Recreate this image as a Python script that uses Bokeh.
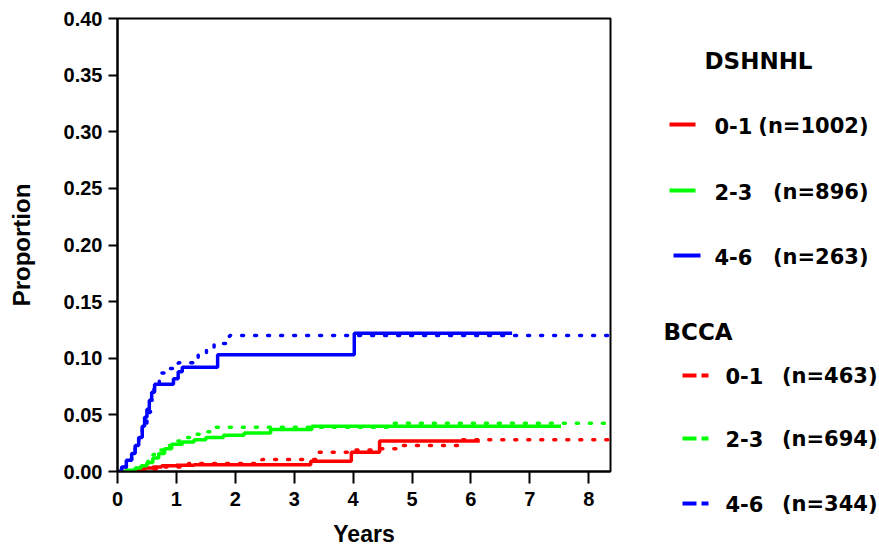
from bokeh.plotting import figure
from bokeh.layouts import row
from bokeh.models import Range1d, FixedTicker, NumeralTickFormatter
from bokeh.core.properties import value
from bokeh.embed import file_html
from bokeh.resources import INLINE

# ---------------- data ----------------
x_ticks = [0, 1, 2, 3, 4, 5, 6, 7, 8]
y_ticks = [0.0, 0.05, 0.10, 0.15, 0.20, 0.25, 0.30, 0.35, 0.40]

# DSHNHL (solid)
dsh_01_t = [0, 0.3, 0.45, 0.6, 0.75, 1.0, 1.3, 3.28, 3.97, 4.45, 6.15]
dsh_01_y = [0, 0.001, 0.003, 0.004, 0.005, 0.0055, 0.006, 0.009, 0.017, 0.027, 0.027]

dsh_23_t = [0, 0.15, 0.3, 0.4, 0.5, 0.6, 0.7, 0.8, 0.92, 1.1, 1.3, 1.5, 1.8, 2.15, 2.6, 3.3, 7.53]
dsh_23_y = [0, 0.001, 0.003, 0.005, 0.008, 0.012, 0.016, 0.020, 0.024, 0.026, 0.028, 0.030, 0.032,
            0.034, 0.037, 0.040, 0.040]

dsh_46_t = [0, 0.07, 0.15, 0.24, 0.3, 0.36, 0.42, 0.46, 0.5, 0.54, 0.58, 0.63, 0.95, 1.03, 1.1, 1.7,
            4.02, 6.7]
dsh_46_y = [0, 0.004, 0.010, 0.016, 0.023, 0.030, 0.040, 0.048, 0.055, 0.063, 0.070, 0.077, 0.082,
            0.088, 0.092, 0.103, 0.122, 0.122]

# BCCA (dotted)
bc_01_t = [0, 0.3, 0.5, 0.8, 1.2, 2.45, 3.37, 3.97, 4.4, 4.76, 5.83, 8.37]
bc_01_y = [0, 0.001, 0.002, 0.004, 0.007, 0.0105, 0.017, 0.019, 0.020, 0.023, 0.028, 0.028]

bc_23_t = [0, 0.29, 0.4, 0.52, 0.6, 0.7, 0.86, 0.95, 1.08, 1.25, 1.42, 1.64, 4.6, 8.37]
bc_23_y = [0, 0.002, 0.006, 0.011, 0.015, 0.019, 0.023, 0.027, 0.030, 0.033, 0.035, 0.039, 0.0425,
           0.0425]

bc_46_t = [0, 0.07, 0.15, 0.24, 0.3, 0.36, 0.42, 0.5, 0.56, 0.62, 0.71, 0.88, 1.03, 1.37, 1.51, 1.64,
           1.9, 8.37]
bc_46_y = [0, 0.003, 0.009, 0.015, 0.022, 0.030, 0.040, 0.052, 0.063, 0.075, 0.087, 0.091, 0.096,
           0.103, 0.108, 0.113, 0.120, 0.120]

groups = ["0-1", "2-3", "4-6"]
dsh_n = ["(n=1002)", "(n=896)", "(n=263)"]
bc_n = ["(n=463)", "(n=694)", "(n=344)"]
colors = ["#ff0000", "#00ff00", "#0000ff"]

FONT = "Liberation Sans"
LFONT = "DejaVu Sans"

# ---------------- main plot ----------------
p = figure(width=618, height=550, output_backend="svg", toolbar_location=None,
           x_range=Range1d(0, 8.37), y_range=Range1d(0, 0.40),
           min_border_left=117, min_border_right=8, min_border_top=18, min_border_bottom=79)
p.frame_align = False
p.grid.visible = False
p.outline_line_color = "black"
p.outline_line_width = 2
p.background_fill_color = "white"
p.border_fill_color = "white"

for ax in (p.xaxis[0], p.yaxis[0]):
    ax.axis_line_width = 2
    ax.major_tick_line_width = 2
    ax.minor_tick_line_color = None
    ax.major_tick_in = 0
    ax.major_label_text_font = FONT
    ax.major_label_text_font_style = "bold"
    ax.major_label_text_color = "black"
    ax.axis_label_text_font = FONT
    ax.axis_label_text_font_style = "bold"
    ax.axis_label_text_color = "black"

p.xaxis.ticker = FixedTicker(ticks=x_ticks)
p.xaxis.major_tick_out = 12
p.xaxis.major_label_standoff = 8
p.xaxis.major_label_text_font_size = "20px"
p.xaxis.axis_label = "Years"
p.xaxis.axis_label_text_font_size = "23px"
p.xaxis.axis_label_standoff = 12

p.yaxis.ticker = FixedTicker(ticks=y_ticks)
p.yaxis.formatter = NumeralTickFormatter(format="0.00")
p.yaxis.major_tick_out = 9
p.yaxis.major_label_standoff = 6
p.yaxis.major_label_text_font_size = "20px"
p.yaxis.axis_label = "Proportion"
p.yaxis.axis_label_text_font_size = "24px"
p.yaxis.axis_label_standoff = 26

dotted = dict(line_width=3.5, line_dash="2 11", line_cap="round")
solid = dict(line_width=3.5)

for t, y, c in zip([bc_01_t, bc_23_t, bc_46_t], [bc_01_y, bc_23_y, bc_46_y], colors):
    p.step(t, y, mode="after", line_color=c, **dotted)
for t, y, c in zip([dsh_01_t, dsh_23_t, dsh_46_t], [dsh_01_y, dsh_23_y, dsh_46_y], colors):
    p.step(t, y, mode="after", line_color=c, **solid)

# ---------------- legend panel (coordinates = window pixels) ----------------
lg = figure(width=261, height=550, output_backend="svg", toolbar_location=None,
            x_range=Range1d(618, 879), y_range=Range1d(550, 0),
            min_border=0, min_border_left=0, min_border_right=0,
            min_border_top=0, min_border_bottom=0)
lg.frame_align = False
lg.axis.visible = False
lg.grid.visible = False
lg.outline_line_color = None

tf = value(LFONT)
lg.text([758], [60], text=["DSHNHL"], text_font=tf, text_font_style="bold",
        text_font_size="23px", text_align="center", text_baseline="middle", text_color="black")
lg.text([663], [331], text=["BCCA"], text_font=tf, text_font_style="bold",
        text_font_size="23px", text_align="left", text_baseline="middle", text_color="black")

dsh_rows = [124, 190, 255]
dsh_line_x = [[669, 695], [669, 695], [673, 700]]
for yy, lx, g, n, c in zip(dsh_rows, dsh_line_x, groups, dsh_n, colors):
    lg.line(lx, [yy, yy], line_color=c, line_width=4)
    lg.text([714], [yy + 1], text=[g], text_font=tf, text_font_style="bold", text_font_size="21px",
            text_align="left", text_baseline="middle", text_color="black")
    lg.text([868], [yy + 1], text=[n], text_font=tf, text_font_style="bold", text_font_size="21px",
            text_align="right", text_baseline="middle", text_color="black")

bc_rows = [375, 438, 503]
for yy, g, n, c in zip(bc_rows, groups, bc_n, colors):
    lg.line([682, 708], [yy, yy], line_color=c, line_width=4, line_dash="14 5")
    lg.text([725], [yy], text=[g], text_font=tf, text_font_style="bold", text_font_size="21px",
            text_align="left", text_baseline="middle", text_color="black")
    lg.text([877], [yy], text=[n], text_font=tf, text_font_style="bold", text_font_size="21px",
            text_align="right", text_baseline="middle", text_color="black")

layout = row(p, lg)
open("out.html", "w").write(file_html(layout, INLINE))
